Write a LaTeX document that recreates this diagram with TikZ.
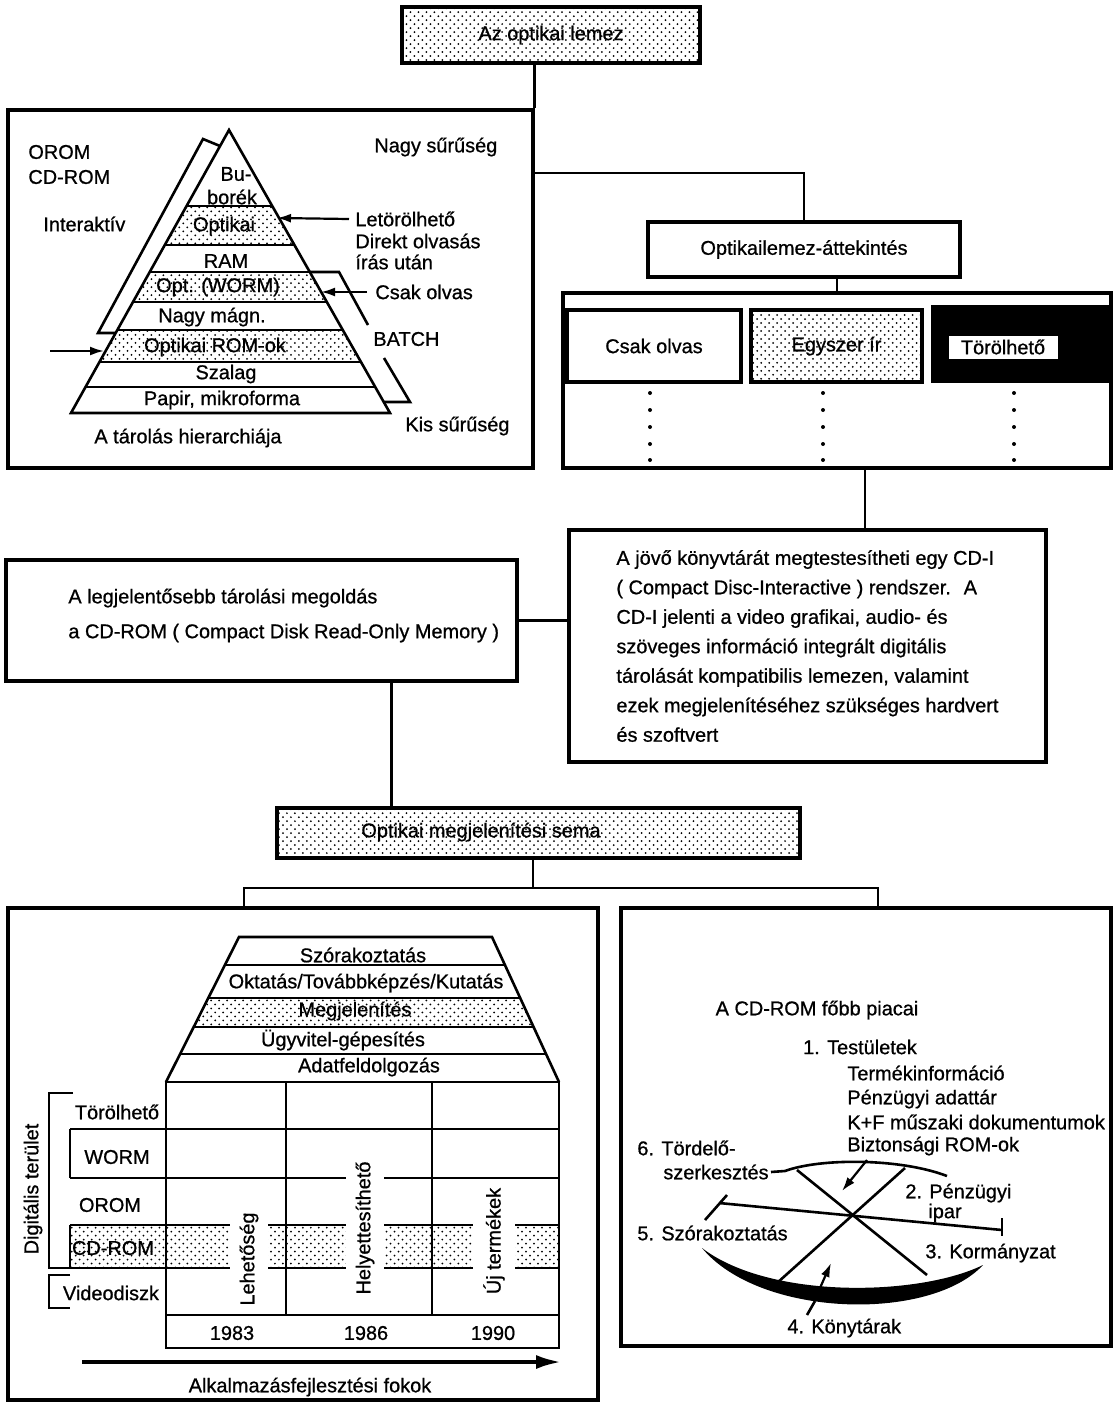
\documentclass[tikz,border=0pt]{standalone}
\usepackage{fontspec}
\setmainfont{Liberation Sans}[UprightFeatures={FakeBold=0.8}]
\usepackage{tikz}
\usetikzlibrary{arrows.meta,patterns,fit}

\pgfdeclarepatternformonly{sparse dots}{\pgfqpoint{-0.5pt}{-0.5pt}}{\pgfqpoint{3.5pt}{3.5pt}}{\pgfqpoint{4pt}{4pt}}{%
  \pgfpathcircle{\pgfqpoint{0pt}{0pt}}{0.5pt}%
  \pgfpathcircle{\pgfqpoint{2pt}{2pt}}{0.5pt}%
  \pgfusepath{fill}}

\tikzset{
  box/.style={draw,line width=1.6bp,inner sep=0pt},
  dotbox/.style={box,pattern=sparse dots},
  panel/.style={draw,line width=1.6bp,inner sep=0pt,fit={#1}},
  link/.style={line width=1.3bp},
  pointer/.style={line width=1.1bp,-{Latex[length=7bp,width=4.5bp]}},
  ltxt/.style={inner sep=0pt,anchor=west},
  vtxt/.style={fill=white,inner xsep=1bp,inner ysep=5bp,rotate=90},
}

\begin{document}
\begin{tikzpicture}[x=0.5bp,y=-0.5bp,inner sep=0pt]
\useasboundingbox (0,0) rectangle (1114,1403);

\node (top) at (551,35)[dotbox,minimum width=149bp,minimum height=28bp] {Az optikai lemez};
\node (hier) [panel={(8,110) (533,468)}] {};
\node (attek) at (804,249.5)[box,minimum width=156bp,minimum height=27.5bp] {Optikailemez-áttekintés};
\node (types) [panel={(563,293) (1111,468)}] {};
\coordinate (fork1) at (533,173);
\draw[link] (top.south -| hier.north east) -- (hier.north east);
\draw[link] (fork1) -| (attek.north);
\draw[link] (attek.south -| types.north) -- (types.north);

% pyramid
\foreach \a/\b in {206/245,272/302,330/362}
  \fill[pattern=sparse dots] ({229-0.5618*(\a-130)},\a) -- ({229+0.5689*(\a-130)},\a)
    -- ({229+0.5689*(\b-130)},\b) -- ({229-0.5618*(\b-130)},\b) -- cycle;
\draw[link,line join=miter] (71,413) -- (229,130) -- (390,413) -- cycle;
\foreach \y in {206,245,272,302,330,362,387}
  \draw[link] ({229-0.5618*(\y-130)},\y) -- ({229+0.5689*(\y-130)},\y);
\draw[link] (115,333) -- (98,333) -- (203,139) -- (220,146);
\draw[link] (309.8,272) -- (339,272) -- (368,325);
\draw[link] (384,358) -- (410,402) -- (383.7,402);

\node (bu) at (236,174) {Bu-};
\node (borek) at (232,197) {borék};
\node (optikai) at (224,226) {Optikai};
\node (ram) at (226,261) {RAM};
\node (wormband) at (218,287) {Opt. (WORM)};
\node (magn) at (212,317) {Nagy mágn.};
\node (romband) at (215,347) {Optikai ROM-ok};
\node (szalag) at (226,374) {Szalag};
\node (papir) at (222,400) {Papir, mikroforma};

\node (orom) at (28,152)[ltxt] {OROM};
\node (cdrom) at (28,177)[ltxt] {CD-ROM};
\node (interakt) at (43,224)[ltxt] {Interaktív};
\node (nagy) at (374,147)[ltxt] {Nagy sűrűség};
\node (letor) at (355,219)[ltxt] {Letörölhető};
\node (direkt) at (355,241)[ltxt] {Direkt olvasás};
\node (iras) at (355,262)[ltxt] {írás után};
\node (csak) at (375,292)[ltxt] {Csak olvas};
\node (batch) at (373,339)[ltxt] {BATCH};
\node (kis) at (405,426)[ltxt] {Kis sűrűség};
\node (hiercap) at (94,438)[ltxt] {A tárolás hierarchiája};
\coordinate (letorTip) at (277,218);
\coordinate (csakTip) at (321,292);
\coordinate (romFrom) at (50,351);
\coordinate (romTip) at (104,351);
\draw[pointer] ([xshift=-3bp]letor.west) -- (letorTip);
\draw[pointer] ([xshift=-4bp]csak.west) -- (csakTip);
\draw[pointer] (romFrom) -- (romTip);

% disc types
\node (ronly) at (654,346)[box,minimum width=87bp,minimum height=36bp] {Csak olvas};
\node (wonce) at (836.5,346)[dotbox,minimum width=85.5bp,minimum height=36bp] {Egyszer ír};
\node (erase) at (1022,344)[box,fill=black,minimum width=89bp,minimum height=37.5bp] {};
\node (eraseT) at (1003,347)[fill=white,minimum width=54.5bp,minimum height=11.5bp] {Törölhető};
\foreach \x in {650,823,1014}
  \foreach \y in {393,410,427,444,460}
    \fill (\x,\y) circle[radius=1bp];

% middle
\node (cdi) at (807.5,646)[box,minimum width=238.5bp,minimum height=116bp,align=left,
  font=\fontsize{10}{14.8}\selectfont] {A jövő könyvtárát megtestesítheti egy CD-I\\
( Compact Disc-Interactive ) rendszer.~ A\\
CD-I jelenti a video grafikai, audio- és\\
szöveges információ integrált digitális\\
tárolását kompatibilis lemezen, valamint\\
ezek megjelenítéséhez szükséges hardvert\\
és szoftvert};
\node (legjel) at (261.5,620.5)[box,minimum width=255.5bp,minimum height=60.5bp] {};
\node (legjelT) at (68,615.5)[ltxt,align=left,font=\fontsize{10}{17.5}\selectfont]
  {A legjelentősebb tárolási megoldás\\a CD-ROM ( Compact Disk Read-Only Memory )};
\draw[link] (legjel.east) -- (legjel.east -| cdi.west);
\draw[link] ([xshift=14bp]types.south) -- ([xshift=14bp]types.south |- cdi.north);

\node (sema) at (538.5,833)[dotbox,minimum width=261.5bp,minimum height=25bp] {};
\node (semaT) at (481,832) {Optikai megjelenítési sema};
\draw[link] ([xshift=65bp]legjel.south) -- ([xshift=65bp]legjel.south |- sema.north);

\coordinate (bus) at (533,888);
\node (apps) [panel={(8,908) (598,1400)}] {};
\node (markets) [panel={(621,908) (1111,1346)}] {};
\draw[link] (sema.south -| bus) -- (bus);
\draw[link] ([xshift=-29.5bp]apps.north) |- (bus) -| ([xshift=6bp]markets.north);

% application levels
\fill[pattern=sparse dots] ({239-0.5034*61},998) -- ({492+0.4621*61},998)
  -- ({492+0.4621*90},1027) -- ({239-0.5034*90},1027) -- cycle;
\draw[link] (166,1082) -- (239,937) -- (492,937) -- (559,1082);
\foreach \y in {965,998,1027,1054}
  \draw[link] ({239-0.5034*(\y-937)},\y) -- ({492+0.4621*(\y-937)},\y);
\node (szor) at (363,955) {Szórakoztatás};
\node (oktat) at (366,983) {Oktatás/Továbbképzés/Kutatás};
\node (megjel) at (355,1011) {Megjelenítés};
\node (ugyv) at (343,1040) {Ügyvitel-gépesítés};
\node (adatf) at (369,1067) {Adatfeldolgozás};

\fill[pattern=sparse dots] (70,1225) rectangle (559,1268);
\draw[link] (166,1082) rectangle (559,1315);
\draw[link] (166,1315) rectangle (559,1348);
\foreach \x in {286,432}
  \draw[link] (\x,1082) -- (\x,1315);
\foreach \y in {1129,1178,1225,1268}
  \draw[link] (70,\y) -- (559,\y);
\draw[link] (70,1129) -- (70,1178);
\draw[link] (70,1225) -- (70,1268);
\draw[link] (73,1093) -- (49,1093) -- (49,1268) -- (70,1268);
\draw[link] (70,1275) -- (49,1275) -- (49,1308) -- (70,1308);

\node (torol) at (117,1112) {Törölhető};
\node (worm) at (117,1157) {WORM};
\node (orom2) at (110,1205) {OROM};
\node (cdrom2) at (113,1248) {CD-ROM};
\node (video) at (111,1293) {Videodiszk};
\node (digit) at (33,1189)[rotate=90] {Digitális terület};
\node (lehet) at (249,1259)[vtxt] {Lehetőség};
\node (helyet) at (365,1228)[vtxt] {Helyettesíthető};
\node (ujterm) at (494,1241)[vtxt] {Új termékek};
\node (y83) at (232,1333) {1983};
\node (y86) at (366,1333) {1986};
\node (y90) at (493,1333) {1990};

\coordinate (axisFrom) at (82,1362);
\coordinate (axisTo) at (562,1362);
\draw[line width=2.2bp,-{Latex[length=13bp,width=7bp]}] (axisFrom) -- (axisTo);
\node (alkalm) at (310,1387) {Alkalmazásfejlesztési fokok};

% markets
\node (piac) at (817,1010) {A CD-ROM főbb piacai};
\node (m1) at (860,1047) {1. Testületek};
\node (m1a) at (847,1073)[ltxt] {Termékinformáció};
\node (m1b) at (847,1099)[ltxt] {Pénzügyi adattár};
\node (m1c) at (847,1122)[ltxt] {K+F műszaki dokumentumok};
\node (m1d) at (847,1146)[ltxt] {Biztonsági ROM-ok};
\node (m6) at (637,1148)[ltxt] {6. Tördelő-};
\node (m6b) at (663,1172)[ltxt] {szerkesztés};
\node (m2) at (905,1193)[ltxt] {2. Pénzügyi};
\node (m2b) at (928,1213)[ltxt] {ipar};
\node (m5) at (637,1233)[ltxt] {5. Szórakoztatás};
\node (m3) at (925,1253)[ltxt] {3. Kormányzat};
\node (m4) at (787,1328)[ltxt] {4. Könytárak};

\draw[link] ([xshift=1bp]m6b.east) -- (785,1171) .. controls (820,1158) and (900,1158) .. (947,1176);
\fill (702,1248) .. controls (760,1318) and (930,1322) .. (983,1265)
  .. controls (920,1296) and (770,1300) .. (702,1248) -- cycle;
\draw[link] (797,1170) -- (927,1275);
\draw[link] (905,1168) -- (777,1283);
\draw[link] (719,1203) -- (1002,1230);
\draw[link] (1002,1218) -- (1002,1236);
\draw[link] (705,1220) -- (727,1195);
\draw[link] (807,1315) -- (815,1301);
\draw[pointer] (867,1160) -- (842,1191);
\draw[pointer] (820,1288) -- (831,1263);
\end{tikzpicture}
\end{document}
